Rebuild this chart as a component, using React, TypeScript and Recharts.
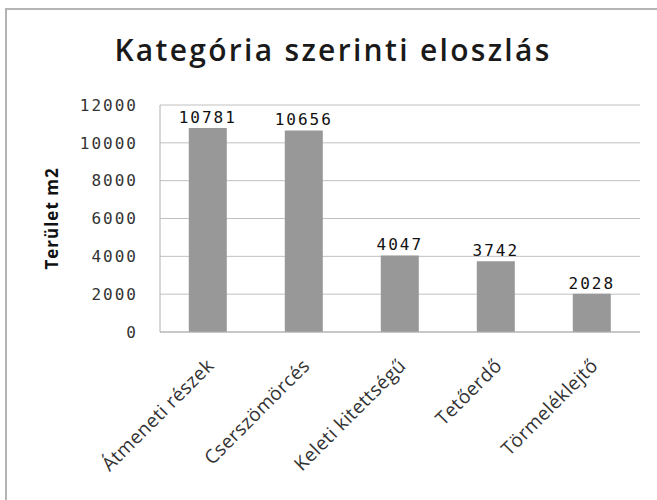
import { BarChart, Bar, XAxis, YAxis, CartesianGrid, LabelList } from 'recharts'

const categories = ['Átmeneti részek', 'Cserszömörcés', 'Keleti kitettségű', 'Tetőerdő', 'Törmeléklejtő']
const areas = [10781, 10656, 4047, 3742, 2028]
const yTicks = [0, 2000, 4000, 6000, 8000, 10000, 12000]

const data = categories.map((name, i) => ({ name, area: areas[i] }))

const MONO = '"DejaVu Sans Mono", monospace'
const SANS = '"Open Sans", sans-serif'

// rotated category labels, anchored at the end under each bar
function CategoryTick(props: any) {
  const { x, y, payload } = props
  const ax = x + 7
  const ay = y + 27
  return (
    <text
      x={ax}
      y={ay}
      transform={`rotate(-45, ${ax}, ${ay})`}
      textAnchor="end"
      fontFamily={SANS}
      fontSize={19}
      letterSpacing={0.4}
      fill="#333"
    >
      {payload.value}
    </text>
  )
}

const edge = '#b4b4b4'

export default function App() {
  return (
    <div
      style={{
        position: 'absolute',
        left: 5,
        top: 8,
        width: 652,
        height: 492,
        background: '#fff',
        overflow: 'hidden'
      }}
    >
      {/* chart frame, cut off on the right and bottom like the original */}
      <div style={{ position: 'absolute', left: 0, top: 0, width: 2, height: 492, background: edge, zIndex: 2 }} />
      <div style={{ position: 'absolute', left: 0, top: 0, width: 652, height: 2, background: edge, zIndex: 2 }} />
      <div
        style={{
          position: 'absolute',
          left: 0,
          top: 27,
          width: 656,
          lineHeight: '30px',
          textAlign: 'center',
          fontFamily: SANS,
          fontWeight: 600,
          fontSize: 30,
          letterSpacing: 2.3,
          color: '#1a1a1a'
        }}
      >
        Kategória szerinti eloszlás
      </div>
      <div style={{ position: 'absolute', left: 2, top: 2 }}>
        <BarChart
          width={650}
          height={490}
          data={data}
          margin={{ top: 95, right: 17, left: 0, bottom: 0 }}
          barCategoryGap="30%"
        >
          <CartesianGrid vertical={false} stroke="#c0c0c0" />
          <XAxis
            dataKey="name"
            tick={<CategoryTick />}
            tickLine={false}
            axisLine={{ stroke: '#b0b0b0' }}
            height={168}
            interval={0}
          />
          <YAxis
            domain={[0, 12000]}
            ticks={yTicks}
            width={153}
            tickLine={false}
            tickMargin={16}
            axisLine={{ stroke: '#b0b0b0' }}
            tick={{ fontFamily: MONO, fontSize: 16, fill: '#333', letterSpacing: 2 }}
            label={{
              value: 'Terület m2',
              angle: -90,
              position: 'center',
              dx: -32,
              style: { fontFamily: SANS, fontWeight: 700, fontSize: 17, letterSpacing: 1, fill: '#111' }
            }}
          />
          <Bar dataKey="area" fill="#989898" isAnimationActive={false}>
            <LabelList
              dataKey="area"
              position="top"
              offset={5}
              style={{ fontFamily: MONO, fontSize: 16, fill: '#111', letterSpacing: 2 }}
            />
          </Bar>
        </BarChart>
      </div>
    </div>
  )
}
